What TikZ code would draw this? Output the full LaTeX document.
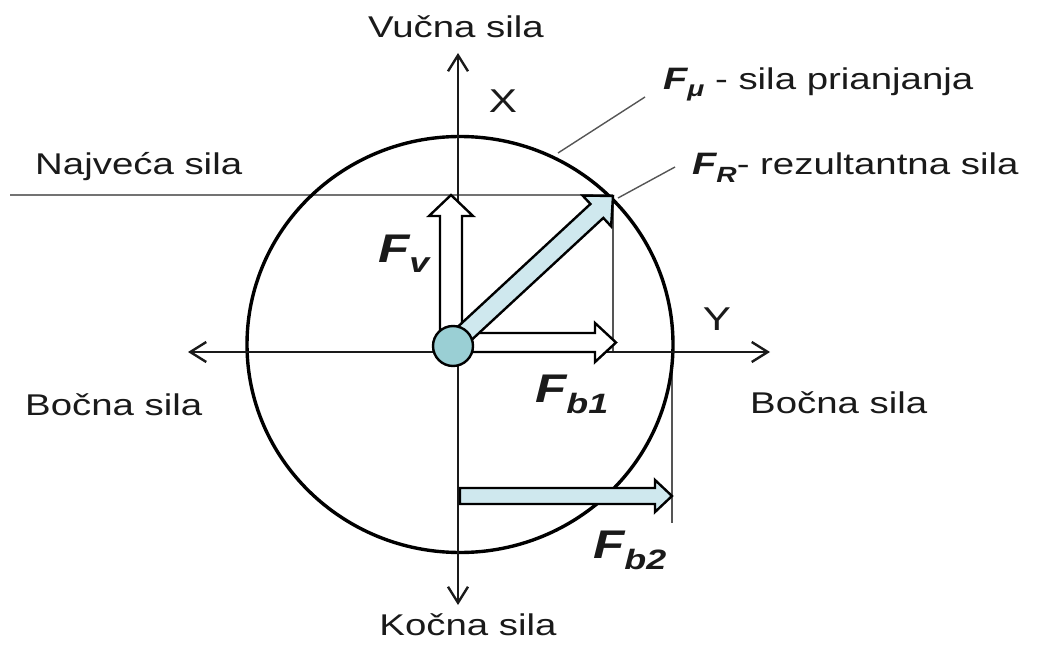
\documentclass[tikz,border=0pt]{standalone}
\usepackage{fontspec}
\setmainfont{Liberation Sans}
\usetikzlibrary{arrows.meta}
\definecolor{txt}{HTML}{1A1A1A}
\definecolor{lblue}{HTML}{CFE8EE}
\definecolor{dotc}{HTML}{9ACFD4}
\definecolor{guide}{HTML}{555555}
\newcommand\hsx[1]{\scalebox{1.28}[1]{#1}}
\newcommand\Fsym[4]{{\fontsize{#1pt}{#1pt}\selectfont\bfseries\itshape F}\raisebox{-#3pt}{\fontsize{#2pt}{#2pt}\selectfont\bfseries\itshape #4}}
\begin{document}
\begin{tikzpicture}[x=1pt,y=-1pt,
  axis/.style={line width=2.4pt, draw=txt, -{Straight Barb[length=16pt,width=20pt]}},
  guideline/.style={line width=1.4pt, draw=guide},
  maxline/.style={line width=2.6pt, draw=black!55},
  hollowarrow/.style={draw=black, line width=2.4pt, fill=white, line join=miter},
  bluearrow/.style={draw=black, line width=2.4pt, fill=lblue, line join=miter},
  lbl/.style={font=\fontsize{30pt}{30pt}\selectfont, text=txt, inner sep=0pt},
  axlbl/.style={font=\fontsize{33pt}{33pt}\selectfont, text=txt, inner sep=0pt},
  flbl/.style={text=txt, inner sep=0pt, anchor=base west},
]
\useasboundingbox (0,0) rectangle (1049,658);

% key points
\coordinate (O) at (458,352);
\coordinate (Xtop) at (458,53);
\coordinate (Xbot) at (458,605);
\coordinate (Yleft) at (188,352);
\coordinate (Yright) at (770,352);
\coordinate (C) at (460,344.5);
\coordinate (Rtip) at (613,196);
\coordinate (MaxL) at (10,195);
\coordinate (MaxR) at (613,195);
\coordinate (B1foot) at (613,352);
\coordinate (B2top) at (672,352);
\coordinate (B2bot) at (672,523);

% maximum force line and guide lines
\draw[maxline] (MaxL) -- (MaxR);
\draw[guideline] (MaxR) -- (B1foot);
\draw[guideline] (B2top) -- (B2bot);

% friction circle
\draw[line width=3.4pt, draw=black] (C) ellipse [x radius=213, y radius=208];

% axes
\draw[axis] (O) -- (Xtop);
\draw[axis] (O) -- (Xbot);
\draw[axis] (O) -- (Yleft);
\draw[axis] (O) -- (Yright);

% Fb2 arrow
\draw[bluearrow] (460,488) -- (655,488) -- (655,480) -- (672,496) -- (655,512) -- (655,504) -- (460,504) -- cycle;

% Fv arrow (hollow)
\draw[hollowarrow] (440,345) -- (440,216) -- (429,216) -- (451,195) -- (473,216) -- (462,216) -- (462,345) -- cycle;

% Fb1 arrow (hollow)
\draw[hollowarrow] (453,333) -- (595,333) -- (595,323) -- (616,342.5) -- (595,362) -- (595,352) -- (453,352) -- cycle;

% FR arrow (resultant)
\begin{scope}[shift={(Rtip)}, rotate=42.8]
  \draw[bluearrow] (0,0) -- (-22,21) -- (-22,9.5) -- (-219,9.5) -- (-219,-9.5) -- (-22,-9.5) -- (-22,-21) -- cycle;
\end{scope}

% wheel contact point
\node[circle, draw=black, line width=2.4pt, fill=dotc, minimum size=40pt, inner sep=0pt] (dot) at (453,346) {};

% axis labels
\node[lbl, anchor=base] (vucna) at (456,38) {\hsx{Vučna sila}};
\node[lbl, anchor=base] (kocna) at (468,635) {\hsx{Kočna sila}};
\node[lbl, anchor=base west] (najveca) at (35,175) {\hsx{Najveća sila}};
\node[lbl, anchor=base west] (bocnaL) at (25,415) {\hsx{Bočna sila}};
\node[lbl, anchor=base west] (bocnaR) at (750,413) {\hsx{Bočna sila}};
\node[axlbl, anchor=base] (xl) at (503,113) {\hsx{X}};
\node[axlbl, anchor=base] (yl) at (717,330) {\hsx{Y}};

% force labels
\node[flbl] (fv) at (378,262) {\hsx{\Fsym{40}{28}{10}{v}}};
\node[flbl] (fb1) at (535,402) {\hsx{\Fsym{40}{28}{11}{b1}}};
\node[flbl] (fb2) at (593,558) {\hsx{\Fsym{40}{28}{11}{b2}}};
\node[flbl] (fmu) at (663,90) {\hsx{\Fsym{31}{22}{7}{μ}\fontsize{30pt}{30pt}\selectfont\ - sila prianjanja}};
\node[flbl] (fr) at (692,175) {\hsx{\Fsym{31}{22}{8}{R}\fontsize{30pt}{30pt}\selectfont - rezultantna sila}};

% leaders
\coordinate (muA) at (558,153);
\coordinate (muB) at (645,97);
\coordinate (rA) at (618,198);
\coordinate (rB) at (675,167);
\draw[guideline] (muA) -- (muB);
\draw[guideline] (rA) -- (rB);
\end{tikzpicture}
\end{document}
